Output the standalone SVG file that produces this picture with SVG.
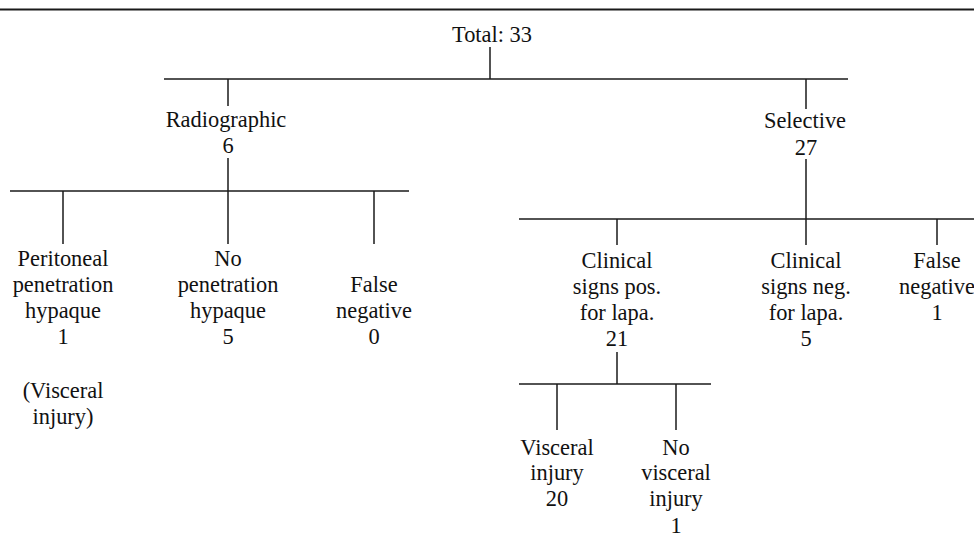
<svg xmlns="http://www.w3.org/2000/svg" width="974" height="551" viewBox="0 0 974 551">
<style>
text{font-family:"Liberation Serif","Times New Roman",serif;font-size:22.4px;fill:#111;text-anchor:middle}
.c line{stroke:#1a1a1a;stroke-width:1.5;fill:none}
</style>
<rect width="974" height="551" fill="#fff"/>
<g id="connectors" class="c">
<line x1="0" y1="9.5" x2="974" y2="9.5" style="stroke-width:2"/>
<line x1="490" y1="47" x2="490" y2="79"/>
<line x1="164" y1="79" x2="848" y2="79"/>
<line x1="228" y1="79" x2="228" y2="106"/>
<line x1="806" y1="79" x2="806" y2="109"/>
<line x1="228" y1="158" x2="228" y2="191"/>
<line x1="10" y1="191" x2="409" y2="191"/>
<line x1="63" y1="191" x2="63" y2="244"/>
<line x1="228" y1="191" x2="228" y2="244"/>
<line x1="374" y1="191" x2="374" y2="244"/>
<line x1="806" y1="159" x2="806" y2="219"/>
<line x1="519" y1="219" x2="974" y2="219"/>
<line x1="617" y1="219" x2="617" y2="245"/>
<line x1="806" y1="219" x2="806" y2="245"/>
<line x1="937" y1="219" x2="937" y2="245"/>
<line x1="617" y1="352" x2="617" y2="384"/>
<line x1="519" y1="384" x2="711" y2="384"/>
<line x1="557" y1="384" x2="557" y2="430"/>
<line x1="676" y1="384" x2="676" y2="430"/>
</g>
<g id="total"><text x="492" y="42">Total: 33</text></g>
<g id="radiographic"><text x="226" y="127">Radiographic</text><text x="228" y="153">6</text></g>
<g id="selective"><text x="805" y="128">Selective</text><text x="806" y="155">27</text></g>
<g id="peritoneal">
<text x="63" y="266">Peritoneal</text><text x="63" y="292">penetration</text><text x="63" y="318">hypaque</text><text x="63" y="344">1</text>
<text x="63" y="398">(Visceral</text><text x="63" y="424">injury)</text>
</g>
<g id="no-penetration">
<text x="228" y="266">No</text><text x="228" y="292">penetration</text><text x="228" y="318">hypaque</text><text x="228" y="344">5</text>
</g>
<g id="false-negative-0">
<text x="374" y="292">False</text><text x="374" y="318">negative</text><text x="374" y="344">0</text>
</g>
<g id="clinical-pos">
<text x="617" y="268">Clinical</text><text x="617" y="294">signs pos.</text><text x="617" y="320">for lapa.</text><text x="617" y="346">21</text>
</g>
<g id="clinical-neg">
<text x="806" y="268">Clinical</text><text x="806" y="294">signs neg.</text><text x="806" y="320">for lapa.</text><text x="806" y="346">5</text>
</g>
<g id="false-negative-1">
<text x="937" y="268">False</text><text x="937" y="294">negative</text><text x="937" y="320">1</text>
</g>
<g id="visceral-injury">
<text x="557" y="455">Visceral</text><text x="557" y="480">injury</text><text x="557" y="506">20</text>
</g>
<g id="no-visceral-injury">
<text x="676" y="455">No</text><text x="676" y="480">visceral</text><text x="676" y="506">injury</text><text x="676" y="533">1</text>
</g>
</svg>
